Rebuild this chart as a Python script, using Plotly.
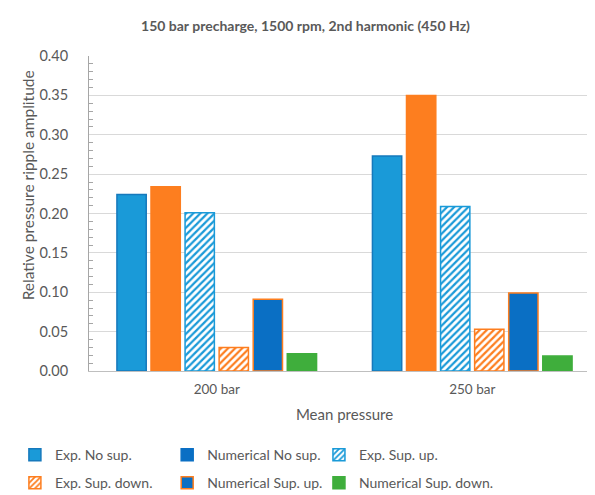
import plotly.graph_objects as go

categories = ["200 bar", "250 bar"]

series_names = [
    "Exp. No sup.",
    "Numerical No sup.",
    "Exp. Sup. up.",
    "Exp. Sup. down.",
    "Numerical Sup. up.",
    "Numerical Sup. down.",
]

exp_no_sup = [0.224, 0.273]
num_no_sup = [0.234, 0.350]
exp_sup_up = [0.201, 0.209]
exp_sup_down = [0.030, 0.053]
num_sup_up = [0.091, 0.099]
num_sup_down = [0.022, 0.019]

values = [exp_no_sup, num_no_sup, exp_sup_up, exp_sup_down, num_sup_up, num_sup_down]

LBLUE = "#1a9ad8"
DBLUE = "#0a6fc4"
ORANGE = "#fd7e1f"
GREEN = "#3fae3c"
GREY = "#595959"

# (fill, border, pattern fg or None) as drawn in the plot
bar_styles = [
    (LBLUE, "#1679bc", None),
    (ORANGE, ORANGE, None),
    ("white", LBLUE, LBLUE),
    ("white", ORANGE, ORANGE),
    (DBLUE, ORANGE, None),
    (GREEN, GREEN, None),
]
# legend swatches (the legend shows a dark blue swatch for "Numerical No sup.")
legend_styles = [
    (LBLUE, "#1679bc", None),
    (DBLUE, DBLUE, None),
    ("white", LBLUE, LBLUE),
    ("white", ORANGE, ORANGE),
    (DBLUE, ORANGE, None),
    (GREEN, GREEN, None),
]


def marker_for(fill, border, fg):
    m = dict(color=fill, line=dict(color=border, width=1.5))
    if fg:
        m["pattern"] = dict(shape="/", fgcolor=fg, bgcolor="white",
                            size=5, solidity=0.45, fillmode="replace")
    return m


fig = go.Figure()
for i, (name, vals, (fill, border, fg)) in enumerate(zip(series_names, values, bar_styles)):
    fig.add_trace(go.Bar(
        x=categories, y=vals, name=name,
        marker=marker_for(fill, border, fg),
        offsetgroup=str(i), showlegend=False,
    ))

# one legend per entry, laid out as 3 columns x 2 rows
leg_x = [-0.145, 0.153, 0.450]
leg_y = [-0.267, -0.356]
legends = {}
for i, (name, (fill, border, fg)) in enumerate(zip(series_names, legend_styles)):
    key = "legend" if i == 0 else f"legend{i + 1}"
    fig.add_trace(go.Bar(
        x=[None], y=[None], name=name,
        marker=marker_for(fill, border, fg),
        offsetgroup=str(i), showlegend=True, legend=key,
    ))
    legends[key] = dict(
        x=leg_x[i % 3], y=leg_y[i // 3], xanchor="left", yanchor="middle",
        orientation="h", font=dict(size=14, color=GREY), itemwidth=30,
        bgcolor="rgba(0,0,0,0)",
    )

fig.update_layout(
    width=595, height=495,
    paper_bgcolor="white", plot_bgcolor="white",
    font=dict(family="Lato", color=GREY, size=13),
    title=dict(text="<b>150 bar precharge, 1500 rpm, 2nd harmonic (450 Hz)</b>",
               x=0.5, xanchor="center", y=0.963, yanchor="middle",
               font=dict(size=14, color=GREY)),
    barmode="group", bargap=0.2, bargroupgap=0.14,
    margin=dict(l=81, r=3, t=48, b=132),
    xaxis=dict(
        title=dict(text="Mean pressure", font=dict(size=15, color=GREY), standoff=13),
        showline=True, linecolor="#bfbfbf", linewidth=1,
        tickfont=dict(size=13.5, color=GREY), ticklabelstandoff=6,
        showgrid=False, automargin=False,
    ),
    yaxis=dict(
        range=[0, 0.40], dtick=0.05, tickformat=".2f",
        showgrid=True, gridcolor="#d9d9d9", gridwidth=1,
        showline=True, linecolor="#a6a6a6", linewidth=1,
        ticks="", zeroline=False, ticklabelstandoff=17,
        tickfont=dict(size=14.5, color=GREY), automargin=False,
        minor=dict(dtick=0.01, ticks="inside", ticklen=4, tickcolor="#a6a6a6", showgrid=False),
    ),
    annotations=[dict(
        text="Relative pressure ripple amplitude", textangle=-90,
        xref="paper", yref="paper", x=-0.119, y=0.59,
        xanchor="center", yanchor="middle", showarrow=False,
        font=dict(size=15.5, color=GREY),
    )],
    **legends,
)

fig.write_html("out.html")
